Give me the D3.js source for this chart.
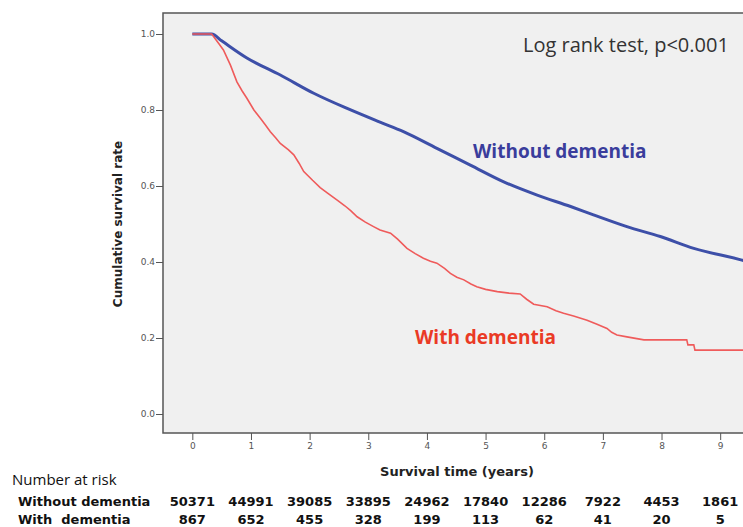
<!DOCTYPE html>
<html><head><meta charset="utf-8">
<script src="https://cdn.jsdelivr.net/npm/d3@7"></script>
<style>body{margin:0;background:#fff}svg{display:block}</style>
</head><body>
<script>
const years = [0,1,2,3,4,5,6,7,8,9];
const yTicks = [0.0,0.2,0.4,0.6,0.8,1.0];
const riskWithout = [50371,44991,39085,33895,24962,17840,12286,7922,4453,1861];
const riskWith = [867,652,455,328,199,113,62,41,20,5];
const blueT = [0,0.33,0.5,0.93,1.5,2.07,2.64,3.2,3.6,4.17,4.74,5.31,5.88,6.45,6.84,7.41,7.98,8.55,9.37,9.6];
const blueS = [1.0,1.0,0.982,0.937,0.892,0.844,0.804,0.768,0.743,0.699,0.655,0.611,0.576,0.546,0.524,0.493,0.467,0.436,0.405,0.395];
const redT = [0,0.33,0.45,0.53,0.65,0.76,0.85,0.93,1.05,1.16,1.25,1.33,1.42,1.5,1.64,1.73,1.82,1.9,2.05,2.18,2.3,2.47,2.6,2.7,2.81,2.95,3.09,3.2,3.38,3.5,3.66,3.8,3.94,4.06,4.17,4.3,4.4,4.51,4.63,4.75,4.85,5.0,5.2,5.4,5.59,5.7,5.82,6.05,6.2,6.33,6.5,6.73,6.9,7.07,7.15,7.24,7.41,7.7,8.43,8.45,8.55,8.57,9.6];
const redS = [1.0,1.0,0.975,0.958,0.918,0.874,0.85,0.831,0.80,0.778,0.76,0.743,0.727,0.712,0.695,0.682,0.66,0.638,0.615,0.596,0.582,0.563,0.548,0.535,0.519,0.505,0.493,0.484,0.476,0.46,0.436,0.422,0.41,0.402,0.397,0.383,0.37,0.36,0.353,0.342,0.335,0.328,0.322,0.318,0.316,0.302,0.289,0.282,0.272,0.265,0.258,0.247,0.236,0.225,0.215,0.208,0.203,0.195,0.195,0.182,0.182,0.168,0.168];

const W = 743, H = 527;
const svg = d3.select("body").append("svg").attr("width", W).attr("height", H);

const x = d3.scaleLinear().domain([-0.5, 10]).range([163, 163 + 10.5*58.65]);
const y = d3.scaleLinear().domain([0, 1]).range([414, 34]);
const pTop = 13, pBottom = 433, pLeft = 163;

svg.append("rect").attr("x", pLeft).attr("y", pTop).attr("width", x(10) - pLeft).attr("height", pBottom - pTop)
  .attr("fill", "#f0f0f0");

svg.append("clipPath").attr("id","c").append("rect").attr("x",pLeft).attr("y",pTop).attr("width",x(10)-pLeft).attr("height",pBottom-pTop);
const g = svg.append("g").attr("clip-path","url(#c)");
const blueData = blueT.map((t,i)=>[t, blueS[i]]);
const redData = redT.map((t,i)=>[t, redS[i]]);
g.append("path").attr("d", d3.line().x(d=>x(d[0])).y(d=>y(d[1])).curve(d3.curveMonotoneX)(blueData))
  .attr("fill","none").attr("stroke","#3d4fa8").attr("stroke-width",3);
g.append("path").attr("d", d3.line().x(d=>x(d[0])).y(d=>y(d[1])).curve(d3.curveLinear)(redData))
  .attr("fill","none").attr("stroke","#ef5b5b").attr("stroke-width",1.6);

svg.append("path").attr("d", `M${x(10)},${pTop}H${pLeft}V${pBottom}H${x(10)}`)
  .attr("fill","none").attr("stroke","#555").attr("stroke-width",1.5);

const tf = "DejaVu Sans, Verdana, sans-serif";
const yAxis = d3.axisLeft(y).tickValues(yTicks).tickFormat(d3.format(".1f")).tickSize(7).tickPadding(1);
const ya = svg.append("g").attr("transform", `translate(${pLeft},0)`).call(yAxis);
ya.select(".domain").remove();
ya.selectAll("line").attr("stroke","#555");
ya.selectAll("text").attr("font-family",tf).attr("font-size",9).attr("fill","#555");

const xAxis = d3.axisBottom(x).tickValues(years).tickFormat(d3.format("d")).tickSize(7).tickPadding(3);
const xa = svg.append("g").attr("transform", `translate(0,${pBottom})`).call(xAxis);
xa.select(".domain").remove();
xa.selectAll("line").attr("stroke","#555");
xa.selectAll("text").attr("font-family",tf).attr("font-size",9).attr("fill","#555");

svg.append("text").attr("transform","translate(122,224) rotate(-90)").attr("text-anchor","middle")
  .attr("font-family",tf).attr("font-weight","bold").attr("font-size",12).attr("fill","#222")
  .text("Cumulative survival rate");
svg.append("text").attr("x",457).attr("y",476).attr("text-anchor","middle")
  .attr("font-family",tf).attr("font-weight","bold").attr("font-size",13).attr("fill","#222")
  .text("Survival time (years)");

svg.append("text").attr("x",523).attr("y",52).attr("font-family","Open Sans, sans-serif").attr("font-size",20).attr("fill","#333")
  .text("Log rank test, p<0.001");
svg.append("text").attr("x",473).attr("y",158).attr("font-family","Open Sans, sans-serif").attr("font-weight","bold").attr("font-size",19).attr("fill","#3a3d9c")
  .text("Without dementia");
svg.append("text").attr("x",415).attr("y",344).attr("font-family","Open Sans, sans-serif").attr("font-weight","bold").attr("font-size",19).attr("fill","#ea3a25")
  .text("With dementia");

svg.append("text").attr("x",12).attr("y",485).attr("font-family","Open Sans, sans-serif").attr("font-size",15).attr("fill","#111")
  .text("Number at risk");
const rf = "DejaVu Sans, sans-serif";
svg.append("text").attr("x",18).attr("y",506).attr("font-family",rf).attr("font-weight","bold").attr("font-size",13).attr("fill","#111")
  .text("Without dementia");
svg.append("text").attr("x",18).attr("y",524).attr("font-family",rf).attr("font-weight","bold").attr("font-size",13).attr("fill","#111")
  .style("white-space","pre").text("With  dementia");
svg.selectAll("text.rw").data(riskWithout).join("text").attr("class","rw")
  .attr("x",(d,i)=>x(years[i])).attr("y",506).attr("text-anchor","middle")
  .attr("font-family",rf).attr("font-weight","bold").attr("font-size",13).attr("fill","#111").text(d=>d);
svg.selectAll("text.rd").data(riskWith).join("text").attr("class","rd")
  .attr("x",(d,i)=>x(years[i])).attr("y",524).attr("text-anchor","middle")
  .attr("font-family",rf).attr("font-weight","bold").attr("font-size",13).attr("fill","#111").text(d=>d);
</script>
</body></html>
